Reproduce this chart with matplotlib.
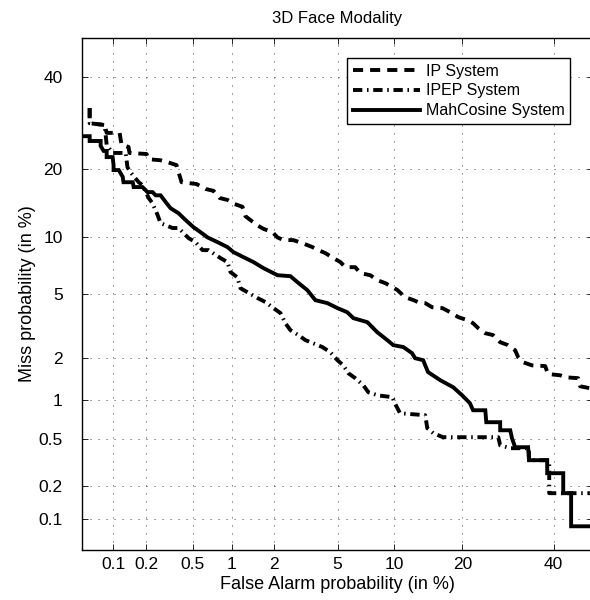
from statistics import NormalDist
import numpy as np
import matplotlib
matplotlib.use('Agg')
import matplotlib.pyplot as plt
from matplotlib.ticker import FixedLocator, FixedFormatter, NullLocator

# ---- data (percent) ----
ip_fa = [0.0595, 0.0595, 0.0831, 0.0869, 0.115, 0.12, 0.139, 0.142, 0.202, 0.211, 0.268, 0.302,
         0.366, 0.381, 0.403, 0.534, 0.629, 0.727, 0.808, 0.929, 1.05, 1.2, 1.26, 1.37,
         1.51, 1.69, 1.95, 2.11, 2.31, 2.68, 3.06, 3.54, 3.85, 4.24, 4.73, 5.19,
         5.54, 6.29, 6.7, 7.58, 8.24, 9.05, 9.81, 10.4, 11.3, 12.4, 13, 14,
         15, 16.6, 17.9, 19.3, 20.9, 22, 23, 24.4, 26, 27.5, 29.2, 30.8,
         31.5, 32.6, 34.7, 37.9, 38.6, 41.6, 43.1, 46.2, 46.7, 49.2]
ip_miss = [32.6, 29.2, 28.8, 27.1, 27.1, 24.6, 24.2, 23, 22.8, 21.8, 21.6, 21.3,
           20.7, 19.4, 17.7, 17.4, 16.6, 16.3, 15.2, 14.9, 14.3, 13.9, 12.6, 12.1,
           11.5, 11, 10.6, 10, 9.7, 9.7, 9.37, 8.95, 8.64, 8.34, 7.86, 7.49,
           7.04, 7.04, 6.54, 6.37, 5.98, 5.76, 5.47, 5.26, 4.79, 4.6, 4.48, 4.42,
           4.18, 4.13, 3.9, 3.64, 3.49, 3.34, 3.11, 2.89, 2.81, 2.53, 2.42, 2.24,
           2.01, 1.86, 1.77, 1.75, 1.54, 1.51, 1.46, 1.44, 1.26, 1.22]

ipep_fa = [0.0595, 0.0595, 0.0831, 0.0869, 0.099, 0.131, 0.136, 0.145, 0.172, 0.186, 0.211, 0.228,
           0.252, 0.268, 0.339, 0.381, 0.46, 0.524, 0.596, 0.665, 0.823, 0.929, 0.979, 1.1,
           1.16, 1.3, 1.54, 1.75, 1.98, 2.21, 2.38, 2.57, 2.89, 3.2, 4.07, 4.54,
           4.99, 5.39, 5.76, 6.29, 6.96, 7.4, 8.34, 9.81, 10.1, 10.7, 14, 14.3,
           15.2, 16.7, 27.1, 27.5, 29.7, 34, 34, 38.9, 38.9, 49.2]
ipep_miss = [32.6, 29.2, 28.8, 24.6, 23, 23, 20.3, 19.4, 17.7, 17.2, 15.2, 14.4,
             12.8, 11.7, 11.1, 11.1, 9.92, 9.48, 8.64, 8.64, 7.86, 7.49, 6.62, 6.21,
             5.39, 5.12, 4.73, 4.48, 4.13, 3.85, 3.34, 3.02, 2.81, 2.61, 2.35, 2.17,
             1.92, 1.77, 1.56, 1.44, 1.28, 1.14, 1.08, 1.05, 0.946, 0.794, 0.767, 0.607,
             0.554, 0.515, 0.515, 0.443, 0.419, 0.419, 0.333, 0.333, 0.172, 0.172]

mc_fa = [0.0508, 0.0595, 0.0595, 0.0761, 0.0761, 0.0813, 0.0869, 0.0869, 0.099, 0.101, 0.101, 0.113,
         0.123, 0.125, 0.152, 0.155, 0.186, 0.206, 0.228, 0.243, 0.268, 0.296, 0.326, 0.381,
         0.435, 0.505, 0.575, 0.653, 0.78, 0.929, 1.03, 1.22, 1.44, 1.69, 2.11, 2.57,
         2.85, 3.29, 3.69, 4.36, 4.99, 5.68, 6.14, 7.31, 8.24, 9.26, 9.92, 11.1,
         12.2, 12.6, 13.7, 14.4, 16.3, 18.4, 20, 21.4, 22, 24.4, 24.6, 27.5,
         27.5, 29.7, 30.1, 30.8, 33.8, 34, 38.4, 38.4, 42.4, 42.4, 44.4, 44.4,
         49.2]
mc_miss = [26.4, 26.4, 25.4, 25.4, 24.4, 23.4, 23.4, 22.2, 22.2, 20.7, 19.8, 19.8,
           18.6, 17.7, 17.7, 16.9, 16.9, 16.1, 16.1, 15.6, 15.6, 14.6, 13.7, 13,
           12.1, 11.2, 10.6, 10, 9.48, 8.95, 8.44, 7.95, 7.49, 6.96, 6.37, 6.29,
           5.83, 5.26, 4.6, 4.42, 4.13, 3.9, 3.59, 3.39, 2.93, 2.61, 2.42, 2.35,
           2.14, 1.98, 1.92, 1.59, 1.39, 1.24, 1.08, 0.946, 0.837, 0.837, 0.677, 0.677,
           0.585, 0.585, 0.505, 0.427, 0.427, 0.333, 0.333, 0.258, 0.258, 0.172, 0.172, 0.085,
           0.085]

tick_vals = [0.1, 0.2, 0.5, 1, 2, 5, 10, 20, 40]
tick_labels = ['0.1', '0.2', '0.5', '1', '2', '5', '10', '20', '40']
series_labels = ['IP System', 'IPEP System', 'MahCosine System']

# ---- probit (normal deviate) scale ----
_nd = NormalDist()
_ppf = np.vectorize(lambda p: _nd.inv_cdf(min(max(p / 100.0, 1e-9), 1 - 1e-9)), otypes=[float])
_cdf = np.vectorize(lambda z: _nd.cdf(z) * 100.0, otypes=[float])


def fwd(p):
    return _ppf(np.asarray(p, dtype=float))


def inv(z):
    return _cdf(np.asarray(z, dtype=float))


plt.rcParams['font.family'] = ['Liberation Sans', 'DejaVu Sans']

fig = plt.figure(figsize=(5.9, 6.0), dpi=100)
ax = fig.add_axes([82 / 590, 50 / 600, 511 / 590, 512 / 600])
ax.set_xscale('function', functions=(fwd, inv))
ax.set_yscale('function', functions=(fwd, inv))

lw = 2.8
ax.plot(ip_fa, ip_miss, color='black', lw=lw, linestyle=(0, (2.6, 1.8)),
        label=series_labels[0], solid_capstyle='butt', dash_capstyle='butt')
ax.plot(ipep_fa, ipep_miss, color='black', lw=lw, linestyle=(0, (2.4, 1.2, 0.4, 1.2)),
        label=series_labels[1], dash_capstyle='butt')
ax.plot(mc_fa, mc_miss, color='black', lw=lw, linestyle='-',
        label=series_labels[2], solid_joinstyle='miter')

ax.set_xlim(0.05, 50)
ax.set_ylim(0.05, 50)
for axis in (ax.xaxis, ax.yaxis):
    axis.set_major_locator(FixedLocator(tick_vals))
    axis.set_major_formatter(FixedFormatter(tick_labels))
    axis.set_minor_locator(NullLocator())

ax.grid(True, color='0.25', lw=0.6, linestyle=(0, (1.4, 8.2)))
ax.tick_params(axis='both', which='major', direction='in', length=4, width=0.6,
               top=True, right=True, labelsize=12.5)
ax.tick_params(axis='x', pad=5)
ax.tick_params(axis='y', pad=14)
for s in ax.spines.values():
    s.set_linewidth(1.0)

ax.set_xlabel('False Alarm probability (in %)', fontsize=13, labelpad=3)
ax.set_ylabel('Miss probability (in %)', fontsize=13, labelpad=2)
ax.set_title('3D Face Modality', fontsize=12, pad=11)

leg = ax.legend(loc='upper right', bbox_to_anchor=(570 / 590, 1 - 58 / 600),
                bbox_transform=fig.transFigure, fontsize=11.5, frameon=True,
                fancybox=False, framealpha=1, edgecolor='black',
                handlelength=4.2, handletextpad=0.35, labelspacing=0.3,
                borderpad=0.35, borderaxespad=0)
leg.get_frame().set_linewidth(1.0)

fig.savefig('out.png', dpi=100)
